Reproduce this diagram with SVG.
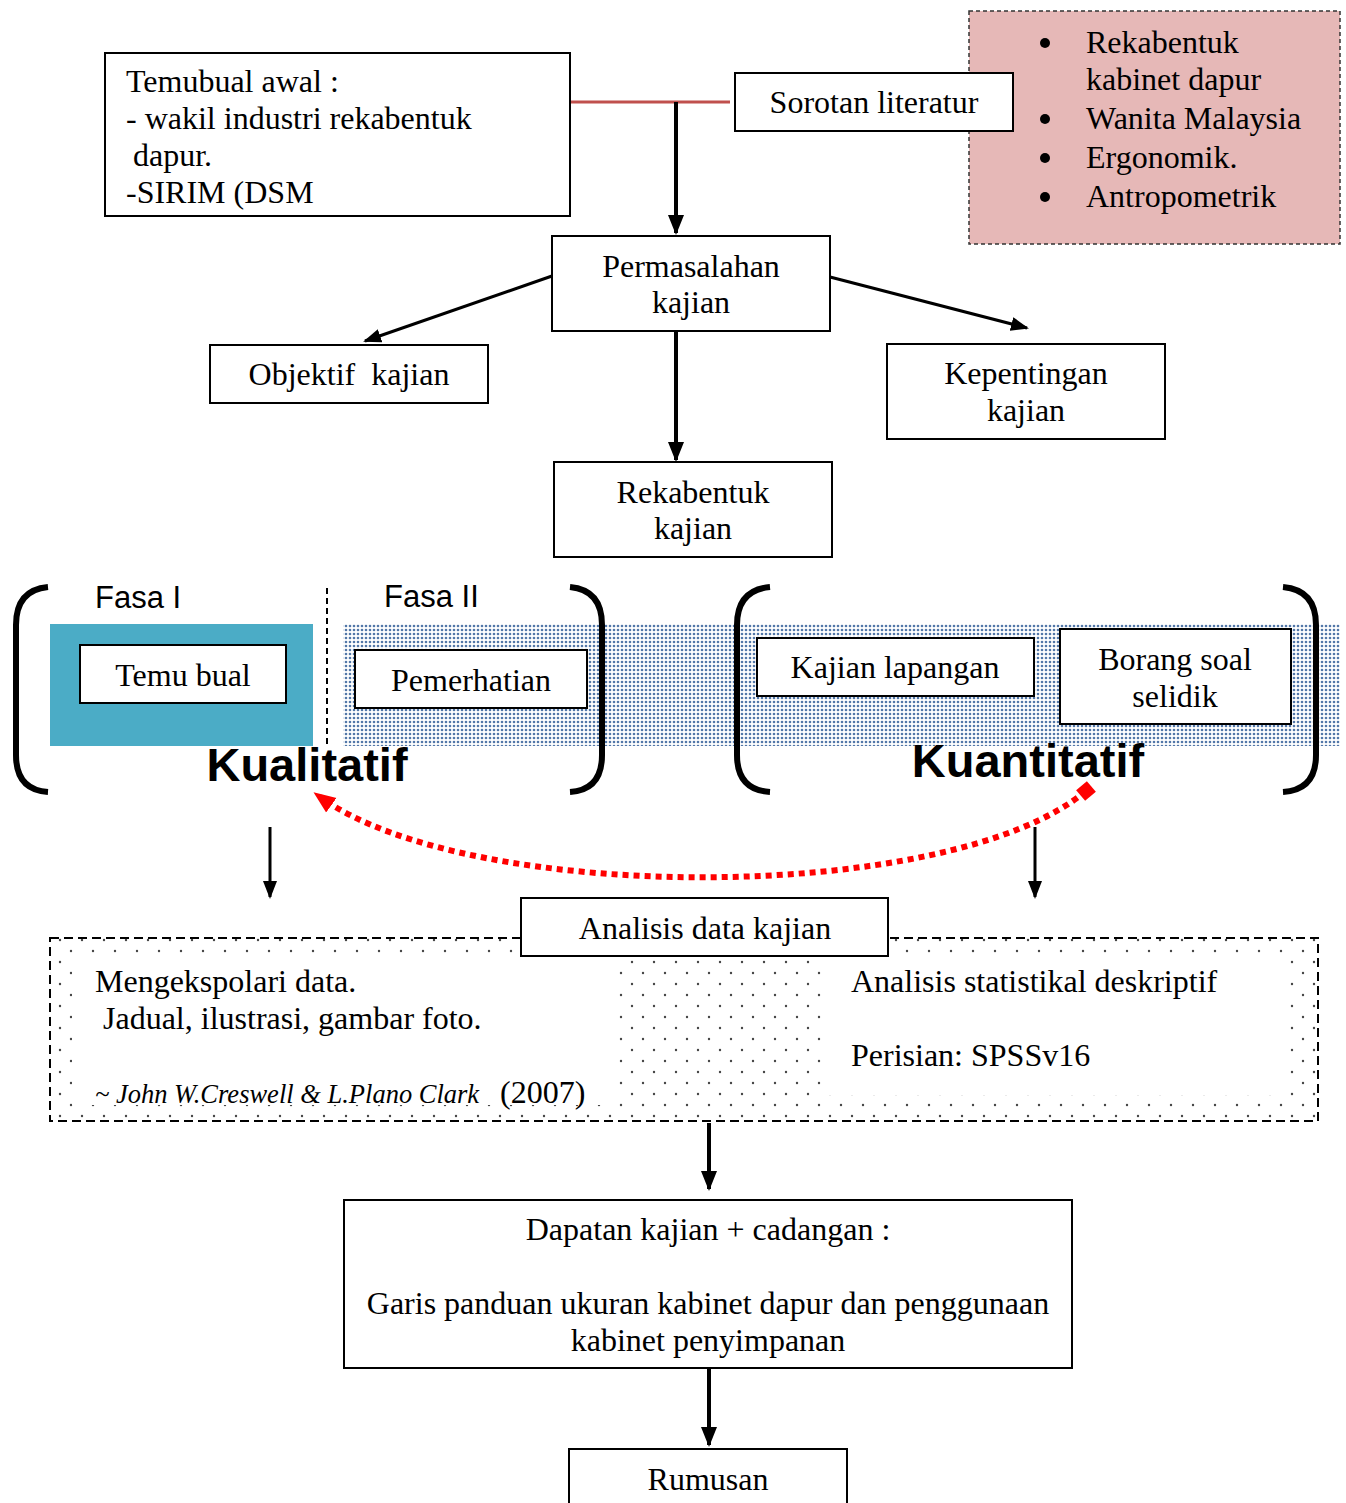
<svg xmlns="http://www.w3.org/2000/svg" width="1346" height="1503" viewBox="0 0 1346 1503">
<style>
.box{fill:#fff;stroke:#000;stroke-width:2}
.t{font-family:"Liberation Serif","Times New Roman",serif;font-size:32px;fill:#000}
.c{text-anchor:middle}
.s{font-family:"Liberation Sans",Arial,sans-serif;fill:#000}
.br{fill:none;stroke:#000;stroke-width:6;stroke-linecap:butt}
.thick{stroke:#000;stroke-width:4;fill:none}
.thin{stroke:#000;stroke-width:3;fill:none}
</style>
<defs>
<marker id="ah" markerUnits="userSpaceOnUse" markerWidth="20" markerHeight="20" viewBox="0 0 20 20" refX="18" refY="10" orient="auto">
<path d="M0,2 L20,10 L0,18 z" fill="#000"/>
</marker>
<marker id="ahs" markerUnits="userSpaceOnUse" markerWidth="18" markerHeight="16" viewBox="0 0 18 16" refX="16" refY="8" orient="auto">
<path d="M0,1 L18,8 L0,15 z" fill="#000"/>
</marker>
<marker id="rh" markerUnits="userSpaceOnUse" markerWidth="22" markerHeight="22" viewBox="0 0 22 22" refX="14" refY="11" orient="auto">
<path d="M0,2 L22,11 L0,20 z" fill="#f00"/>
</marker>
<marker id="rs" markerUnits="userSpaceOnUse" markerWidth="16" markerHeight="16" viewBox="0 0 16 16" refX="8" refY="8" orient="auto">
<rect x="1" y="1" width="14" height="14" fill="#f00"/>
</marker>
<pattern id="bluedots" patternUnits="userSpaceOnUse" width="4" height="4">
<rect width="4" height="4" fill="#fff"/>
<circle cx="2" cy="2" r="1.3" fill="#5277a8"/>
</pattern>
<pattern id="graydots" patternUnits="userSpaceOnUse" width="22" height="22">
<rect width="22" height="22" fill="#fff"/>
<circle cx="5" cy="5" r="1.2" fill="#444"/>
<circle cx="16" cy="16" r="1.2" fill="#444"/>
</pattern>
</defs>

<g id="analisis-area">
<rect x="50" y="938" width="1268" height="183" fill="url(#graydots)" stroke="#000" stroke-width="2" stroke-dasharray="9 5"/>
<rect x="72" y="955" width="543" height="150" fill="#fff"/>
<rect x="828" y="960" width="462" height="135" fill="#fff"/>
<text class="t" x="95" y="992">Mengekspolari data.</text>
<text class="t" x="103" y="1029">Jadual, ilustrasi, gambar foto.</text>
<text class="t" x="95" y="1103" style="font-style:italic;font-size:26.5px">~ John W.Creswell &amp; L.Plano Clark</text>
<text class="t" x="500" y="1103">(2007)</text>
<text class="t" x="851" y="992">Analisis statistikal deskriptif</text>
<text class="t" x="851" y="1066">Perisian: SPSSv16</text>
</g>

<g id="fasa-area">
<rect x="343" y="624" width="997" height="122" fill="url(#bluedots)"/>
<rect x="50" y="624" width="263" height="122" fill="#4bacc6"/>
<line x1="327" y1="588" x2="327" y2="746" stroke="#000" stroke-width="2" stroke-dasharray="6 4"/>
<text class="s" x="95" y="608" font-size="31">Fasa I</text>
<text class="s" x="384" y="607" font-size="31">Fasa II</text>
<path class="br" d="M48 587 Q16 590 16 625 L16 755 Q16 790 48 792"/>
<path class="br" d="M570 587 Q602 590 602 625 L602 755 Q602 790 570 792"/>
<path class="br" d="M770 587 Q737 590 737 625 L737 755 Q737 790 770 792"/>
<path class="br" d="M1283 587 Q1316 590 1316 625 L1316 755 Q1316 790 1283 792"/>
<text class="s c" x="307" y="781" font-size="47" font-weight="bold">Kualitatif</text>
<text class="s c" x="1028" y="777" font-size="47" font-weight="bold">Kuantitatif</text>
</g>

<g id="connectors">
<line x1="570" y1="102" x2="730" y2="102" stroke="#c0504d" stroke-width="3"/>
<line class="thick" x1="676" y1="102" x2="676" y2="233" marker-end="url(#ah)"/>
<line class="thin" x1="552" y1="276" x2="365" y2="341" marker-end="url(#ahs)"/>
<line class="thin" x1="830" y1="277" x2="1027" y2="328" marker-end="url(#ahs)"/>
<line class="thick" x1="676" y1="331" x2="676" y2="460" marker-end="url(#ah)"/>
<line class="thin" x1="270" y1="827" x2="270" y2="897" marker-end="url(#ahs)"/>
<line class="thin" x1="1035" y1="827" x2="1035" y2="897" marker-end="url(#ahs)"/>
<path d="M1086 791 C950 905 470 905 320 797" fill="none" stroke="#f00" stroke-width="6" stroke-dasharray="6 5" marker-start="url(#rs)" marker-end="url(#rh)"/>
<line class="thick" x1="709" y1="1123" x2="709" y2="1189" marker-end="url(#ah)"/>
<line class="thick" x1="709" y1="1368" x2="709" y2="1445" marker-end="url(#ah)"/>
</g>

<g id="temubual-awal">
<rect class="box" x="105" y="53" width="465" height="163"/>
<text class="t" x="126" y="92">Temubual awal :</text>
<text class="t" x="126" y="129">- wakil industri rekabentuk</text>
<text class="t" x="133" y="166">dapur.</text>
<text class="t" x="126" y="203">-SIRIM (DSM</text>
</g>

<g id="senarai">
<rect x="969" y="11" width="371" height="233" fill="#e6b8b7" stroke="#333" stroke-width="1.5" stroke-dasharray="4 3"/>
<circle cx="1045" cy="43" r="5" fill="#000"/>
<circle cx="1045" cy="119" r="5" fill="#000"/>
<circle cx="1045" cy="158" r="5" fill="#000"/>
<circle cx="1045" cy="197" r="5" fill="#000"/>
<text class="t" x="1086" y="53">Rekabentuk</text>
<text class="t" x="1086" y="90">kabinet dapur</text>
<text class="t" x="1086" y="129">Wanita Malaysia</text>
<text class="t" x="1086" y="168">Ergonomik.</text>
<text class="t" x="1086" y="207">Antropometrik</text>
</g>

<g id="sorotan">
<rect class="box" x="735" y="73" width="278" height="58"/>
<text class="t c" x="874" y="113">Sorotan literatur</text>
</g>

<g id="permasalahan">
<rect class="box" x="552" y="236" width="278" height="95"/>
<text class="t c" x="691" y="277">Permasalahan</text>
<text class="t c" x="691" y="313">kajian</text>
</g>

<g id="objektif">
<rect class="box" x="210" y="345" width="278" height="58"/>
<text class="t c" x="349" y="385">Objektif&#160; kajian</text>
</g>

<g id="kepentingan">
<rect class="box" x="887" y="344" width="278" height="95"/>
<text class="t c" x="1026" y="384">Kepentingan</text>
<text class="t c" x="1026" y="421">kajian</text>
</g>

<g id="rekabentuk">
<rect class="box" x="554" y="462" width="278" height="95"/>
<text class="t c" x="693" y="503">Rekabentuk</text>
<text class="t c" x="693" y="539">kajian</text>
</g>

<g id="temu-bual">
<rect class="box" x="80" y="645" width="206" height="58"/>
<text class="t c" x="183" y="686">Temu bual</text>
</g>

<g id="pemerhatian">
<rect class="box" x="355" y="650" width="232" height="58"/>
<text class="t c" x="471" y="691">Pemerhatian</text>
</g>

<g id="kajian-lapangan">
<rect class="box" x="757" y="638" width="277" height="58"/>
<text class="t c" x="895" y="678">Kajian lapangan</text>
</g>

<g id="borang">
<rect class="box" x="1060" y="629" width="231" height="95"/>
<text class="t c" x="1175" y="670">Borang soal</text>
<text class="t c" x="1175" y="707">selidik</text>
</g>

<g id="analisis-data">
<rect class="box" x="521" y="898" width="367" height="58"/>
<text class="t c" x="705" y="939">Analisis data kajian</text>
</g>

<g id="dapatan">
<rect class="box" x="344" y="1200" width="728" height="168"/>
<text class="t c" x="708" y="1240">Dapatan kajian + cadangan :</text>
<text class="t c" x="708" y="1314">Garis panduan ukuran kabinet dapur dan penggunaan</text>
<text class="t c" x="708" y="1351">kabinet penyimpanan</text>
</g>

<g id="rumusan">
<rect class="box" x="569" y="1449" width="278" height="60"/>
<text class="t c" x="708" y="1490">Rumusan</text>
</g>
</svg>
